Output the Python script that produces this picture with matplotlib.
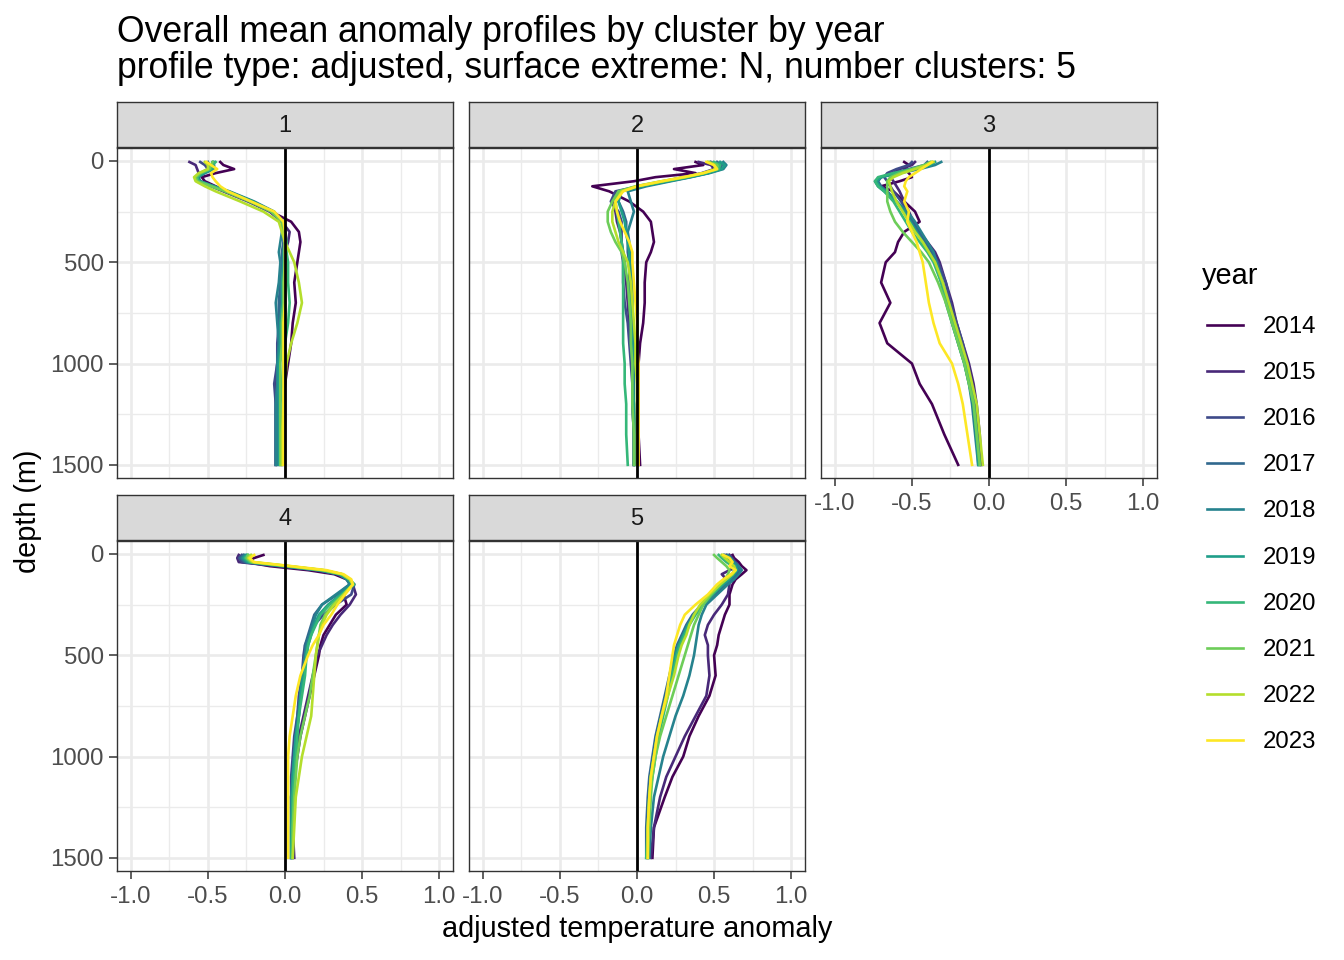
import matplotlib.pyplot as plt
from matplotlib.lines import Line2D
import numpy as np

plt.rcParams['font.family'] = ['Liberation Sans', 'DejaVu Sans']

years = [2014, 2015, 2016, 2017, 2018, 2019, 2020, 2021, 2022, 2023]
year_colors = ['#440154', '#482878', '#3E4A89', '#31688E', '#26828E',
               '#1F9E89', '#35B779', '#6DCD59', '#B4DE2C', '#FDE725']
clusters = [1, 2, 3, 4, 5]
depth = [5, 20, 40, 60, 80, 100, 125, 150, 200, 250, 300, 350, 400, 450, 500,
         600, 700, 800, 900, 1000, 1100, 1200, 1350, 1500]

# anomaly per year (rows follow `years`), one list per cluster
cluster1 = [
    [-0.42, -0.40, -0.33, -0.45, -0.54, -0.52, -0.45, -0.38, -0.22, -0.09, 0.04, 0.09, 0.10, 0.09, 0.08, 0.06, 0.07, 0.05, 0.04, 0.02, 0.00, -0.01, -0.02, -0.02],
    [-0.62, -0.58, -0.57, -0.56, -0.57, -0.55, -0.48, -0.40, -0.24, -0.10, -0.02, 0.03, 0.02, 0.00, -0.01, -0.02, -0.01, -0.03, -0.04, -0.05, -0.06, -0.06, -0.06, -0.06],
    [-0.55, -0.52, -0.50, -0.55, -0.58, -0.56, -0.47, -0.38, -0.22, -0.09, -0.02, 0.00, 0.01, 0.00, -0.02, -0.03, -0.03, -0.04, -0.05, -0.05, -0.07, -0.06, -0.06, -0.06],
    [-0.50, -0.49, -0.48, -0.54, -0.57, -0.55, -0.46, -0.37, -0.21, -0.08, -0.01, -0.01, -0.01, -0.02, -0.02, -0.03, -0.04, -0.04, -0.04, -0.05, -0.05, -0.05, -0.05, -0.05],
    [-0.47, -0.46, -0.46, -0.52, -0.56, -0.55, -0.46, -0.36, -0.20, -0.07, -0.02, -0.02, -0.03, -0.04, -0.03, -0.04, -0.06, -0.05, -0.04, -0.05, -0.05, -0.06, -0.06, -0.06],
    [-0.46, -0.47, -0.47, -0.53, -0.57, -0.56, -0.47, -0.37, -0.21, -0.08, -0.01, 0.00, 0.00, -0.01, -0.01, -0.02, -0.02, -0.03, -0.03, -0.04, -0.04, -0.04, -0.04, -0.04],
    [-0.45, -0.47, -0.48, -0.54, -0.57, -0.56, -0.47, -0.38, -0.22, -0.08, -0.01, 0.00, 0.01, 0.01, 0.02, 0.02, 0.03, 0.02, 0.00, -0.01, -0.02, -0.03, -0.03, -0.03],
    [-0.47, -0.48, -0.49, -0.55, -0.58, -0.57, -0.48, -0.39, -0.23, -0.09, -0.02, -0.01, 0.00, 0.00, 0.00, -0.01, -0.01, -0.02, -0.02, -0.03, -0.03, -0.03, -0.03, -0.03],
    [-0.52, -0.50, -0.50, -0.56, -0.59, -0.58, -0.52, -0.45, -0.29, -0.14, -0.04, -0.02, 0.00, 0.03, 0.06, 0.09, 0.11, 0.08, 0.04, 0.01, 0.00, -0.01, -0.02, -0.02],
    [-0.51, -0.48, -0.44, -0.48, -0.47, -0.45, -0.42, -0.37, -0.22, -0.07, -0.01, 0.00, 0.00, 0.00, 0.00, 0.00, 0.00, -0.01, -0.01, -0.01, -0.01, -0.01, -0.01, -0.01],
]
cluster2 = [
    [0.38, 0.43, 0.24, 0.38, 0.12, -0.02, -0.29, -0.18, -0.05, 0.04, 0.09, 0.10, 0.11, 0.09, 0.06, 0.05, 0.05, 0.04, 0.02, 0.01, 0.01, 0.01, 0.01, 0.02],
    [0.40, 0.48, 0.50, 0.42, 0.30, 0.18, 0.02, -0.12, -0.16, -0.14, -0.13, -0.11, -0.10, -0.09, -0.08, -0.07, -0.06, -0.05, -0.04, -0.03, -0.03, -0.02, -0.02, -0.02],
    [0.48, 0.52, 0.52, 0.44, 0.32, 0.18, 0.01, -0.14, -0.17, -0.12, -0.10, -0.10, -0.10, -0.10, -0.09, -0.09, -0.08, -0.06, -0.05, -0.04, -0.03, -0.03, -0.02, -0.02],
    [0.52, 0.55, 0.54, 0.46, 0.34, 0.20, 0.03, -0.11, -0.12, -0.09, -0.07, -0.07, -0.06, -0.06, -0.05, -0.05, -0.05, -0.04, -0.04, -0.03, -0.03, -0.03, -0.02, -0.02],
    [0.56, 0.58, 0.56, 0.47, 0.35, 0.22, 0.06, -0.06, -0.04, -0.02, -0.04, -0.06, -0.05, -0.04, -0.04, -0.03, -0.03, -0.03, -0.02, -0.02, -0.02, -0.02, -0.01, -0.01],
    [0.54, 0.57, 0.55, 0.46, 0.34, 0.20, 0.03, -0.10, -0.12, -0.10, -0.08, -0.07, -0.06, -0.05, -0.05, -0.04, -0.04, -0.04, -0.03, -0.03, -0.03, -0.02, -0.02, -0.02],
    [0.50, 0.54, 0.53, 0.44, 0.32, 0.18, 0.01, -0.12, -0.14, -0.13, -0.12, -0.11, -0.10, -0.09, -0.09, -0.09, -0.09, -0.09, -0.09, -0.08, -0.08, -0.07, -0.07, -0.06],
    [0.47, 0.52, 0.52, 0.43, 0.31, 0.16, -0.01, -0.12, -0.16, -0.19, -0.19, -0.17, -0.14, -0.10, -0.08, -0.06, -0.05, -0.04, -0.04, -0.03, -0.03, -0.03, -0.02, -0.02],
    [0.46, 0.50, 0.51, 0.43, 0.31, 0.17, 0.00, -0.10, -0.14, -0.16, -0.16, -0.14, -0.12, -0.09, -0.06, -0.04, -0.03, -0.02, -0.01, -0.01, 0.00, 0.00, 0.00, 0.00],
    [0.45, 0.50, 0.52, 0.43, 0.30, 0.16, 0.00, -0.09, -0.14, -0.13, -0.11, -0.08, -0.05, -0.03, -0.03, -0.02, -0.01, 0.00, 0.00, 0.01, 0.01, 0.01, 0.01, 0.01],
]
cluster3 = [
    [-0.55, -0.52, -0.55, -0.52, -0.50, -0.58, -0.70, -0.62, -0.55, -0.48, -0.45, -0.55, -0.59, -0.61, -0.67, -0.70, -0.64, -0.71, -0.66, -0.50, -0.45, -0.37, -0.29, -0.20],
    [-0.48, -0.50, -0.58, -0.62, -0.64, -0.62, -0.60, -0.58, -0.55, -0.52, -0.49, -0.45, -0.40, -0.35, -0.32, -0.28, -0.24, -0.21, -0.17, -0.13, -0.10, -0.08, -0.06, -0.05],
    [-0.50, -0.52, -0.60, -0.66, -0.68, -0.66, -0.64, -0.62, -0.57, -0.53, -0.50, -0.46, -0.42, -0.37, -0.33, -0.28, -0.25, -0.21, -0.17, -0.14, -0.11, -0.09, -0.07, -0.05],
    [-0.40, -0.42, -0.52, -0.62, -0.70, -0.72, -0.70, -0.66, -0.60, -0.55, -0.50, -0.46, -0.42, -0.38, -0.34, -0.30, -0.26, -0.23, -0.19, -0.15, -0.12, -0.10, -0.08, -0.06],
    [-0.31, -0.35, -0.45, -0.58, -0.70, -0.74, -0.72, -0.68, -0.60, -0.53, -0.48, -0.44, -0.40, -0.36, -0.34, -0.30, -0.27, -0.24, -0.20, -0.16, -0.13, -0.11, -0.09, -0.07],
    [-0.35, -0.38, -0.48, -0.60, -0.70, -0.73, -0.71, -0.67, -0.60, -0.55, -0.51, -0.47, -0.43, -0.39, -0.35, -0.31, -0.28, -0.24, -0.20, -0.16, -0.13, -0.10, -0.08, -0.07],
    [-0.37, -0.40, -0.50, -0.62, -0.72, -0.74, -0.72, -0.68, -0.62, -0.58, -0.54, -0.50, -0.45, -0.40, -0.36, -0.31, -0.27, -0.23, -0.19, -0.15, -0.12, -0.10, -0.08, -0.06],
    [-0.38, -0.42, -0.50, -0.58, -0.64, -0.66, -0.66, -0.66, -0.66, -0.64, -0.61, -0.56, -0.50, -0.44, -0.39, -0.33, -0.28, -0.24, -0.20, -0.16, -0.13, -0.10, -0.08, -0.06],
    [-0.36, -0.40, -0.48, -0.56, -0.62, -0.65, -0.64, -0.63, -0.60, -0.56, -0.52, -0.48, -0.43, -0.39, -0.35, -0.30, -0.26, -0.22, -0.18, -0.14, -0.11, -0.08, -0.06, -0.04],
    [-0.37, -0.40, -0.44, -0.48, -0.52, -0.54, -0.55, -0.53, -0.55, -0.52, -0.53, -0.50, -0.47, -0.45, -0.43, -0.41, -0.39, -0.36, -0.32, -0.24, -0.20, -0.17, -0.14, -0.11],
]
cluster4 = [
    [-0.14, -0.20, -0.25, -0.10, 0.15, 0.32, 0.40, 0.43, 0.38, 0.40, 0.33, 0.29, 0.25, 0.23, 0.22, 0.19, 0.16, 0.13, 0.10, 0.08, 0.06, 0.05, 0.05, 0.05],
    [-0.30, -0.31, -0.30, -0.05, 0.20, 0.34, 0.40, 0.44, 0.46, 0.42, 0.36, 0.31, 0.27, 0.24, 0.21, 0.18, 0.15, 0.12, 0.09, 0.07, 0.05, 0.04, 0.05, 0.06],
    [-0.28, -0.30, -0.28, -0.03, 0.21, 0.35, 0.41, 0.45, 0.43, 0.33, 0.25, 0.19, 0.16, 0.13, 0.12, 0.11, 0.09, 0.08, 0.06, 0.05, 0.04, 0.04, 0.04, 0.04],
    [-0.27, -0.29, -0.26, -0.02, 0.22, 0.35, 0.40, 0.42, 0.34, 0.24, 0.19, 0.17, 0.15, 0.13, 0.13, 0.12, 0.10, 0.08, 0.07, 0.06, 0.05, 0.04, 0.04, 0.04],
    [-0.26, -0.28, -0.25, -0.01, 0.22, 0.35, 0.40, 0.42, 0.33, 0.24, 0.20, 0.18, 0.16, 0.14, 0.13, 0.11, 0.10, 0.09, 0.07, 0.06, 0.05, 0.04, 0.04, 0.04],
    [-0.25, -0.27, -0.24, 0.00, 0.23, 0.36, 0.41, 0.44, 0.36, 0.28, 0.22, 0.19, 0.17, 0.15, 0.14, 0.12, 0.10, 0.09, 0.07, 0.06, 0.05, 0.05, 0.04, 0.04],
    [-0.24, -0.26, -0.23, 0.01, 0.24, 0.37, 0.42, 0.45, 0.37, 0.29, 0.23, 0.20, 0.17, 0.15, 0.14, 0.13, 0.11, 0.09, 0.08, 0.07, 0.06, 0.05, 0.05, 0.04],
    [-0.24, -0.25, -0.22, 0.02, 0.25, 0.37, 0.42, 0.44, 0.38, 0.31, 0.26, 0.23, 0.22, 0.21, 0.20, 0.18, 0.16, 0.13, 0.10, 0.08, 0.07, 0.06, 0.05, 0.05],
    [-0.22, -0.24, -0.21, 0.03, 0.25, 0.37, 0.42, 0.44, 0.38, 0.32, 0.27, 0.24, 0.22, 0.21, 0.20, 0.19, 0.18, 0.17, 0.14, 0.11, 0.09, 0.07, 0.06, 0.05],
    [-0.20, -0.23, -0.20, 0.04, 0.27, 0.38, 0.43, 0.44, 0.39, 0.34, 0.30, 0.25, 0.22, 0.18, 0.15, 0.10, 0.07, 0.05, 0.03, 0.02, 0.02, 0.02, 0.02, 0.02],
]
cluster5 = [
    [0.62, 0.63, 0.66, 0.68, 0.71, 0.68, 0.64, 0.62, 0.60, 0.60, 0.57, 0.55, 0.53, 0.52, 0.50, 0.51, 0.47, 0.40, 0.34, 0.30, 0.23, 0.18, 0.11, 0.10],
    [0.60, 0.62, 0.64, 0.66, 0.60, 0.55, 0.58, 0.60, 0.59, 0.55, 0.50, 0.46, 0.44, 0.46, 0.46, 0.47, 0.45, 0.38, 0.31, 0.25, 0.19, 0.15, 0.11, 0.09],
    [0.58, 0.60, 0.63, 0.66, 0.67, 0.65, 0.62, 0.58, 0.50, 0.43, 0.37, 0.33, 0.30, 0.27, 0.25, 0.22, 0.19, 0.16, 0.13, 0.11, 0.09, 0.08, 0.07, 0.07],
    [0.57, 0.59, 0.62, 0.65, 0.66, 0.64, 0.61, 0.57, 0.49, 0.42, 0.36, 0.32, 0.29, 0.26, 0.24, 0.21, 0.18, 0.15, 0.12, 0.10, 0.08, 0.07, 0.06, 0.06],
    [0.59, 0.61, 0.63, 0.66, 0.68, 0.66, 0.63, 0.59, 0.52, 0.45, 0.42, 0.40, 0.39, 0.38, 0.37, 0.34, 0.30, 0.25, 0.21, 0.17, 0.14, 0.11, 0.09, 0.08],
    [0.56, 0.58, 0.61, 0.64, 0.65, 0.63, 0.60, 0.56, 0.49, 0.42, 0.37, 0.33, 0.30, 0.27, 0.25, 0.22, 0.19, 0.16, 0.13, 0.11, 0.09, 0.08, 0.07, 0.07],
    [0.53, 0.55, 0.58, 0.62, 0.63, 0.62, 0.58, 0.55, 0.49, 0.43, 0.38, 0.34, 0.31, 0.28, 0.26, 0.23, 0.20, 0.17, 0.14, 0.12, 0.10, 0.08, 0.07, 0.06],
    [0.50, 0.52, 0.55, 0.58, 0.60, 0.59, 0.57, 0.54, 0.48, 0.43, 0.40, 0.37, 0.35, 0.33, 0.31, 0.27, 0.23, 0.19, 0.15, 0.12, 0.10, 0.09, 0.08, 0.07],
    [0.55, 0.57, 0.60, 0.63, 0.64, 0.62, 0.58, 0.54, 0.47, 0.41, 0.37, 0.34, 0.32, 0.29, 0.27, 0.24, 0.20, 0.16, 0.13, 0.11, 0.09, 0.08, 0.07, 0.07],
    [0.56, 0.60, 0.62, 0.60, 0.64, 0.61, 0.56, 0.52, 0.46, 0.38, 0.31, 0.28, 0.26, 0.24, 0.23, 0.21, 0.19, 0.16, 0.13, 0.11, 0.09, 0.08, 0.07, 0.07],
]
cluster_data = [cluster1, cluster2, cluster3, cluster4, cluster5]

x_ticks = [-1.0, -0.5, 0.0, 0.5, 1.0]
y_ticks = [0, 500, 1000, 1500]

W, H = 1344, 960
fig = plt.figure(figsize=(W / 100, H / 100), dpi=100)


def px_axes(x0, y0, x1, y1):
    return fig.add_axes([x0 / W, 1 - y1 / H, (x1 - x0) / W, (y1 - y0) / H])


col_x = [(117, 453), (469, 805), (821, 1157)]
row_y = [(148, 478), (541, 871)]
dark = '#333333'

for i, cl in enumerate(clusters):
    r, c = divmod(i, 3)
    x0, x1 = col_x[c]
    y0, y1 = row_y[r]

    # facet strip
    st = px_axes(x0, y0 - 46, x1, y0 - 1)
    st.set_facecolor('#D9D9D9')
    st.set_xticks([])
    st.set_yticks([])
    for s in st.spines.values():
        s.set_color(dark)
        s.set_linewidth(1.0)
    st.text(0.5, 0.47, str(cl), ha='center', va='center', fontsize=17, color='#1A1A1A')

    ax = px_axes(x0, y0, x1, y1)
    ax.set_xlim(-1.09, 1.09)
    ax.set_ylim(1565, -64)
    ax.set_xticks(x_ticks)
    ax.set_xticks([-0.75, -0.25, 0.25, 0.75], minor=True)
    ax.set_yticks(y_ticks)
    ax.set_yticks([250, 750, 1250], minor=True)
    ax.grid(which='major', color='#EBEBEB', linewidth=1.9)
    ax.grid(which='minor', color='#EBEBEB', linewidth=1.0)
    ax.set_axisbelow(True)
    for s in ax.spines.values():
        s.set_color(dark)
        s.set_linewidth(1.0)

    for yr, col, vals in zip(years, year_colors, cluster_data[i]):
        ax.plot(vals, depth, color=col, linewidth=1.9, solid_joinstyle='round')
    ax.axvline(0, color='black', linewidth=2.0)

    show_x = (r == 1) or (c == 2)
    show_y = (c == 0)
    ax.tick_params(which='minor', length=0)
    ax.tick_params(which='major', length=5.5, width=1.1, color=dark,
                   labelsize=17.3, labelcolor='#4D4D4D', pad=4)
    ax.tick_params(axis='x', bottom=show_x, labelbottom=show_x, pad=5.5)
    ax.tick_params(axis='y', left=show_y, labelleft=show_y)
    if show_x:
        ax.set_xticklabels([f'{v:.1f}' for v in x_ticks])

# axis titles
fig.text(637 / W, 1 - 929 / H, 'adjusted temperature anomaly', ha='center', va='center', fontsize=20.8)
fig.text(28 / W, 1 - 511 / H, 'depth (m)', ha='center', va='center', rotation=90, fontsize=20.8)

# title
fig.text(117 / W, 1 - 32 / H, 'Overall mean anomaly profiles by cluster by year',
         ha='left', va='center', fontsize=25.6)
fig.text(117 / W, 1 - 69 / H, 'profile type: adjusted, surface extreme: N, number clusters: 5',
         ha='left', va='center', fontsize=25.6)

# legend
fig.text(1202 / W, 1 - 276 / H, 'year', ha='left', va='center', fontsize=20.8)
for k, (yr, col) in enumerate(zip(years, year_colors)):
    yy = 1 - (325 + k * 46.1) / H
    fig.add_artist(Line2D([1207 / W, 1243 / W], [yy, yy], color=col, linewidth=1.9))
    fig.text(1263 / W, yy - 2 / H, str(yr), ha='left', va='center', fontsize=17.3)

fig.savefig('out.png', dpi=100, facecolor='white')
